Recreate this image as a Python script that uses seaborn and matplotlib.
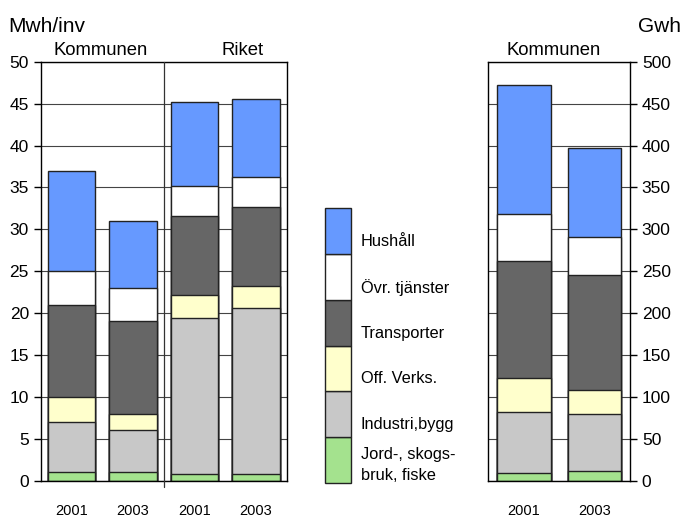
import matplotlib
matplotlib.use("Agg")
import matplotlib.pyplot as plt
import numpy as np
import pandas as pd
import seaborn as sns

# categories from bottom to top of each stack
categories = ["Jord-, skogs-\nbruk, fiske", "Industri,bygg", "Off. Verks.",
              "Transporter", "Övr. tjänster", "Hushåll"]
colors = ["#A4E28E", "#C8C8C8", "#FFFFCC", "#666666", "#FFFFFF", "#6699FF"]

# left panel: Mwh/inv, Kommunen 2001/2003, Riket 2001/2003
left_bars = ["K2001", "K2003", "R2001", "R2003"]
left_years = ["2001", "2003", "2001", "2003"]
jord_mwh = [1.0, 1.0, 0.8, 0.8]
industri_mwh = [6.0, 5.0, 18.6, 19.8]
off_mwh = [3.0, 2.0, 2.8, 2.6]
transp_mwh = [11.0, 11.0, 9.4, 9.5]
ovr_mwh = [4.0, 4.0, 3.6, 3.5]
hush_mwh = [12.0, 8.0, 10.0, 9.4]

# right panel: Gwh, Kommunen 2001/2003
right_bars = ["2001", "2003"]
jord_gwh = [9, 12]
industri_gwh = [73, 68]
off_gwh = [41, 28]
transp_gwh = [139, 137]
ovr_gwh = [56, 46]
hush_gwh = [154, 106]

sns.set_theme(style="white")
plt.rcParams["font.family"] = ["Liberation Sans", "DejaVu Sans"]
plt.rcParams["text.color"] = "black"
plt.rcParams["xtick.color"] = "black"
plt.rcParams["ytick.color"] = "black"

EDGE = "#222222"


def stacked(ax, bars, series, width):
    cum = np.cumsum(np.array(series, dtype=float), axis=0)
    for i in range(len(series) - 1, -1, -1):
        df = pd.DataFrame({"bar": bars, "val": cum[i]})
        sns.barplot(data=df, x="bar", y="val", order=bars, color=colors[i],
                    saturation=1, width=width, edgecolor=EDGE, linewidth=1.0,
                    ax=ax, zorder=2)


fig = plt.figure(figsize=(6.83, 5.17), dpi=100)

# ---- left panel
ax1 = fig.add_axes([40.7 / 683, 36.3 / 517, 246 / 683, 419 / 517])
stacked(ax1, left_bars,
        [jord_mwh, industri_mwh, off_mwh, transp_mwh, ovr_mwh, hush_mwh], 0.77)
ax1.set_ylim(0, 50)
ax1.set_xlim(-0.5, 3.5)
ax1.set_yticks(range(0, 51, 5))
ax1.set_xticks(range(4))
ax1.set_xticklabels(left_years, fontsize=10.5)
ax1.set_xlabel("")
ax1.set_ylabel("")
ax1.tick_params(axis="y", left=True, length=5, width=1, pad=3.5, labelsize=12.5)
ax1.tick_params(axis="x", length=0, pad=17)
ax1.yaxis.grid(True, color="#444444", linewidth=0.8)
ax1.set_axisbelow(True)
for s in ax1.spines.values():
    s.set_color("black")
    s.set_linewidth(1.0)
ax1.plot([1.5, 1.5], [-0.015, 1.0], color="#333333", linewidth=0.9,
         transform=ax1.get_xaxis_transform(), clip_on=False, zorder=3)

# ---- right panel
ax2 = fig.add_axes([488.3 / 683, 36.3 / 517, 141.7 / 683, 419 / 517])
stacked(ax2, right_bars,
        [jord_gwh, industri_gwh, off_gwh, transp_gwh, ovr_gwh, hush_gwh], 0.76)
ax2.set_ylim(0, 500)
ax2.set_xlim(-0.5, 1.5)
ax2.set_yticks(range(0, 501, 50))
ax2.yaxis.tick_right()
ax2.set_xlabel("")
ax2.set_ylabel("")
ax2.tick_params(axis="y", right=True, left=False, length=5, width=1, pad=3.5,
                labelsize=12.5)
ax2.tick_params(axis="x", length=0, pad=17, labelsize=10.5)
ax2.yaxis.grid(True, color="#444444", linewidth=0.8)
ax2.set_axisbelow(True)
for s in ax2.spines.values():
    s.set_color("black")
    s.set_linewidth(1.0)

# ---- legend column in the middle
axl = fig.add_axes([325 / 683, 34.3 / 517, 25.7 / 683, 274.4 / 517])
legend_bars = axl.bar([0] * len(categories), [1] * len(categories),
                      bottom=range(len(categories)), width=1, color=colors,
                      edgecolor=EDGE, linewidth=1.0)
for p in legend_bars:
    p.set_clip_on(False)
axl.set_xlim(-0.5, 0.5)
axl.set_ylim(0, len(categories))
axl.axis("off")
for i, cat in enumerate(categories):
    if "\n" in cat:
        axl.text(1.39, (i + 0.39) / len(categories), cat, va="center", ha="left",
                 fontsize=11.8, linespacing=1.45, transform=axl.transAxes)
    else:
        axl.text(1.39, (i + 0.27) / len(categories), cat, va="center", ha="left",
                 fontsize=11.8, transform=axl.transAxes)

# ---- titles
fig.text(8 / 683, 1 - 32 / 517, "Mwh/inv", fontsize=15, va="baseline", ha="left")
fig.text(681 / 683, 1 - 32 / 517, "Gwh", fontsize=15, va="baseline", ha="right")
fig.text(101 / 683, 1 - 55 / 517, "Kommunen", fontsize=13.3, va="baseline", ha="center")
fig.text(242.5 / 683, 1 - 55 / 517, "Riket", fontsize=13.3, va="baseline", ha="center")
fig.text(554 / 683, 1 - 55 / 517, "Kommunen", fontsize=13.3, va="baseline", ha="center")

fig.savefig("out.png", dpi=100)
plt.close(fig)
